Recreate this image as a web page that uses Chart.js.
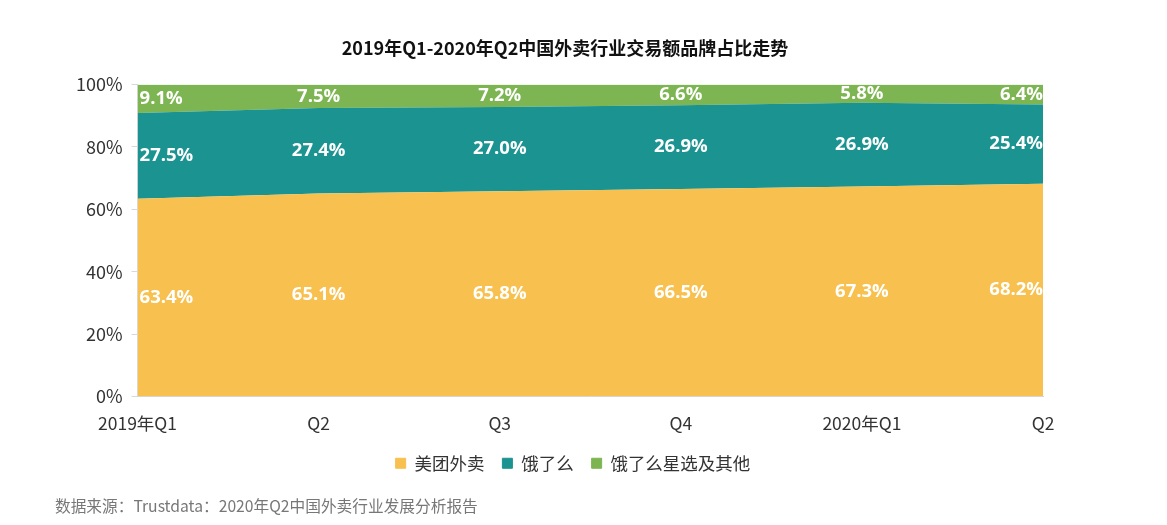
<!DOCTYPE html>
<html><head><meta charset="utf-8">
<script src="https://cdn.jsdelivr.net/npm/chart.js@4"></script>
<style>
html,body{margin:0;padding:0;background:#fff;}
#wrap{position:relative;width:1167px;height:525px;}
#src{position:absolute;left:55px;top:494px;font:15.7px "Noto Sans CJK SC","Liberation Sans",sans-serif;color:#777;}
</style></head>
<body><div id="wrap"><canvas id="c" width="1167" height="495"></canvas>
<div id="src">数据来源：Trustdata：2020年Q2中国外卖行业发展分析报告</div></div>
<script>
const categories = ["2019年Q1","Q2","Q3","Q4","2020年Q1","Q2"];
const meituan = [63.4,65.1,65.8,66.5,67.3,68.2];
const eleme = [27.5,27.4,27.0,26.9,26.9,25.4];
const others = [9.1,7.5,7.2,6.6,5.8,6.4];
const seriesNames = ["美团外卖","饿了么","饿了么星选及其他"];
const yTicks = [0,20,40,60,80,100];

const FONT = '"Noto Sans CJK SC","Open Sans",sans-serif';

const labelPlugin = {
  id:'areaLabels',
  afterDatasetsDraw(chart){
    const ctx = chart.ctx;
    const yScale = chart.scales.y;
    ctx.save();
    ctx.font = 'bold 18.5px "Open Sans","Noto Sans CJK SC",sans-serif';
    ctx.fillStyle = '#fff';
    ctx.textBaseline = 'middle';
    chart.data.datasets.forEach((ds, di) => {
      const meta = chart.getDatasetMeta(di);
      const prev = di > 0 ? chart.getDatasetMeta(di-1) : null;
      meta.data.forEach((pt, i) => {
        const top = pt.y;
        const bottom = prev ? prev.data[i].y : yScale.bottom;
        const y = (top + bottom) / 2;
        let x = pt.x;
        if (i === 0) { ctx.textAlign = 'left'; x += 2; }
        else if (i === meta.data.length - 1) { ctx.textAlign = 'right'; }
        else { ctx.textAlign = 'center'; }
        ctx.fillText(ds.data[i].toFixed(1) + '%', x, y);
      });
    });
    ctx.restore();
  }
};

// nudge legend and title boxes to match the reference placement
const boxShift = {
  id:'boxShift',
  afterLayout(chart){
    const lg = chart.legend;
    if (lg) { lg.top -= 13; lg.bottom -= 13; lg.left += 18; lg.right += 18; }
    const tb = chart.titleBlock;
    if (tb) { tb.left += 10; tb.right += 10; }
  }
};

new Chart(document.getElementById('c'), {
  type: 'line',
  data: {
    labels: categories,
    datasets: [
      {label: seriesNames[0], data: meituan, backgroundColor:'#F8C04E', borderColor:'#F8C04E', fill:'origin'},
      {label: seriesNames[1], data: eleme, backgroundColor:'#1B9390', borderColor:'#1B9390', fill:'-1'},
      {label: seriesNames[2], data: others, backgroundColor:'#7CB551', borderColor:'#7CB551', fill:'-1'}
    ]
  },
  options: {
    responsive:false,
    animation:false,
    elements:{point:{radius:0}, line:{borderWidth:0, tension:0}},
    layout:{padding:{left:67,right:124,top:11,bottom:0}},
    plugins:{
      title:{display:true, text:'2019年Q1-2020年Q2中国外卖行业交易额品牌占比走势',
        font:{family:FONT, size:18, weight:'bold'}, color:'#111', padding:{top:26,bottom:26}},
      legend:{position:'bottom', labels:{usePointStyle:true, pointStyle:'rect', boxWidth:10, boxHeight:10,
        font:{family:FONT, size:17.5}, color:'#333', padding:18}},
      tooltip:{enabled:false}
    },
    scales:{
      x:{offset:false, grid:{display:false, drawTicks:false}, border:{display:true,color:'#d9d9d9'},
        ticks:{font:{family:FONT,size:17.5}, color:'#333', padding:16, maxRotation:0}},
      y:{stacked:true, min:0, max:100, grid:{drawOnChartArea:false, color:'#d9d9d9', tickLength:6},
        border:{display:true,color:'#d9d9d9'},
        afterBuildTicks(s){ s.ticks = yTicks.map(v=>({value:v})); },
        ticks:{font:{family:FONT,size:18}, color:'#333', padding:9, callback:v=>v+'%'}}
    }
  },
  plugins:[labelPlugin, boxShift]
});
</script></body></html>
